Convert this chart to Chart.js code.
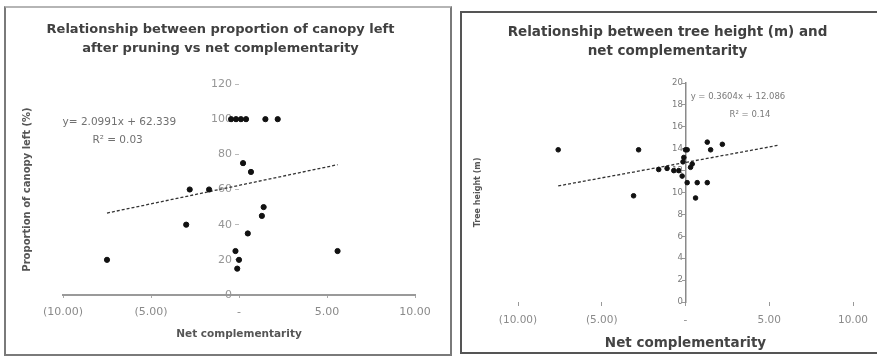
<!DOCTYPE html>
<html>
<head>
<meta charset="utf-8">
<script src="https://cdn.jsdelivr.net/npm/chart.js@4.4.1/dist/chart.umd.min.js"></script>
<style>
  body { margin: 0; background: #fff; }
  .panel { position: absolute; border: 2px solid #7a7a7a; background: #fff; }
  #p1 { left: 4px; top: 6px; width: 444px; height: 346px; border-top-color: #b5b5b5; }
  #p2 { left: 460px; top: 11px; width: 415px; height: 339px; border-color: #555; }
  canvas { display: block; }
</style>
</head>
<body>
<div class="panel" id="p1"><canvas id="canopyChart" width="444" height="346"></canvas></div>
<div class="panel" id="p2"><canvas id="heightChart" width="415" height="339"></canvas></div>
<script>
// Datos
const xTickValues = [-10, -5, 0, 5, 10];
const xTickLabels = ['(10.00)', '(5.00)', '-', '5.00', '10.00'];

// Gráfica 1: proporción de copa vs complementariedad
const canopyX = [-7.5, -3.0, -2.8, -1.7, -0.45, -0.17, 0.11, 0.4, 1.5, 2.2, 0.23, 0.68, 1.4, 1.3, 0.5, -0.2, 0, -0.1, 5.6];
const canopyY = [20, 40, 60, 60, 100, 100, 100, 100, 100, 100, 75, 70, 50, 45, 35, 25, 20, 15, 25];
const canopyTrendX = [-7.5, 5.6];
const canopyTrendY = [46.6, 74.1];

// Gráfica 2: altura del árbol vs complementariedad
const heightX = [-7.6, -3.1, -2.8, 0, 0.1, -0.1, -0.15, -1.6, -1.1, -0.7, -0.4, -0.2, 0.3, 0.4, 0.1, 0.7, 1.3, 0.6, 1.3, 1.5, 2.2];
const heightY = [13.9, 9.7, 13.9, 13.9, 13.9, 13.2, 12.8, 12.1, 12.2, 12.0, 12.0, 11.5, 12.3, 12.6, 10.9, 10.9, 10.9, 9.5, 14.6, 13.9, 14.4];
const heightTrendX = [-7.6, 5.5];
const heightTrendY = [10.6, 14.3];

const dv = '"DejaVu Sans", Verdana, sans-serif';

function toPoints(xs, ys) {
    return xs.map((x, i) => ({ x: x, y: ys[i] }));
}

// Texto de la ecuación de la línea de tendencia
function eqPlugin(items, font, color) {
    return {
        id: 'eqText',
        afterDatasetsDraw(chart) {
            const { ctx, scales } = chart;
            ctx.save();
            ctx.font = font;
            ctx.fillStyle = color;
            ctx.textAlign = 'center';
            ctx.textBaseline = 'middle';
            items.forEach(it => {
                ctx.fillText(it.text, scales.x.getPixelForValue(it.x), scales.y.getPixelForValue(it.y));
            });
            ctx.restore();
        }
    };
}

function xTick(v) {
    const i = xTickValues.indexOf(v);
    return i >= 0 ? xTickLabels[i] : '';
}

// Renderizar gráfica 1
new Chart(document.getElementById('canopyChart'), {
    type: 'scatter',
    data: {
        datasets: [{
            data: toPoints(canopyX, canopyY),
            yAxisID: 'y',
            backgroundColor: '#111',
            borderColor: '#111',
            pointRadius: 2.6,
            pointHoverRadius: 2.6
        }, {
            type: 'line',
            data: toPoints(canopyTrendX, canopyTrendY),
            yAxisID: 'y',
            borderColor: '#333',
            borderWidth: 1.3,
            borderDash: [3, 2],
            pointRadius: 0,
            fill: false
        }]
    },
    options: {
        responsive: false,
        animation: false,
        layout: { padding: { left: 20, right: 35, top: 0, bottom: 6 } },
        plugins: {
            legend: { display: false },
            tooltip: { enabled: false },
            title: {
                display: true,
                text: ['Relationship between proportion of canopy left', 'after pruning vs net complementarity'],
                color: '#404040',
                font: { family: dv, size: 13, weight: 'bold', lineHeight: '19px' },
                padding: { top: 12, bottom: 26 }
            }
        },
        scales: {
            x: {
                type: 'linear', position: 'bottom', min: -10, max: 10,
                ticks: { stepSize: 5, callback: xTick, color: '#8a8a8a', font: { family: dv, size: 11 }, padding: 7.5, maxRotation: 0 },
                grid: { drawOnChartArea: false, tickLength: 3, color: '#aaa' },
                border: { display: true, color: '#9a9a9a', width: 2 },
                title: { display: true, text: 'Net complementarity', color: '#555', font: { family: dv, size: 10.5, weight: 'bold' }, padding: { top: 0, bottom: 7.7 } },
                afterFit: s => { s.height = 53; }
            },
            y: {
                type: 'linear', position: { x: 0 }, min: 0, max: 120,
                ticks: { stepSize: 20, color: '#959595', font: { family: dv, size: 11 }, callback: v => v + '  ' },
                grid: { drawOnChartArea: false, tickLength: 4, color: '#bbb' },
                border: { display: false },
                afterFit: s => { s.width = 0; }
            },
            yt: {
                axis: 'y', type: 'linear', position: 'left', display: true,
                ticks: { display: false },
                grid: { display: false },
                border: { display: false },
                title: { display: true, text: 'Proportion of canopy left (%)', color: '#555', font: { family: dv, size: 10, weight: 'bold' }, padding: { top: -5, bottom: 0 } },
                afterFit: s => { s.width = 37; }
            }
        }
    },
    plugins: [eqPlugin([
        { text: 'y= 2.0991x + 62.339', x: -6.8, y: 98 },
        { text: 'R\u00b2 = 0.03', x: -6.9, y: 88 }
    ], '10.5px ' + dv, '#707070')]
});

// Renderizar gráfica 2
new Chart(document.getElementById('heightChart'), {
    type: 'scatter',
    data: {
        datasets: [{
            data: toPoints(heightX, heightY),
            yAxisID: 'y',
            backgroundColor: '#111',
            borderColor: '#111',
            pointRadius: 2.3,
            pointHoverRadius: 2.3
        }, {
            type: 'line',
            data: toPoints(heightTrendX, heightTrendY),
            yAxisID: 'y',
            borderColor: '#333',
            borderWidth: 1.3,
            borderDash: [3, 2],
            pointRadius: 0,
            fill: false
        }]
    },
    options: {
        responsive: false,
        animation: false,
        layout: { padding: { left: 20, right: 24, top: 0, bottom: 0 } },
        plugins: {
            legend: { display: false },
            tooltip: { enabled: false },
            title: {
                display: true,
                text: ['Relationship between tree height (m) and', 'net complementarity'],
                color: '#404040',
                font: { family: dv, size: 13.5, weight: 'bold', lineHeight: '19px' },
                padding: { top: 10, bottom: 22 }
            }
        },
        scales: {
            x: {
                type: 'linear', position: 'bottom', min: -10, max: 10,
                ticks: { stepSize: 5, callback: xTick, color: '#8a8a8a', font: { family: dv, size: 10.5 }, padding: 7.7, maxRotation: 0 },
                grid: { drawOnChartArea: false, tickLength: 4, color: '#999' },
                border: { display: false },
                title: { display: true, text: 'Net complementarity', color: '#444', font: { family: dv, size: 13.5, weight: 'bold' }, padding: { top: 0, bottom: 0.9 } },
                afterFit: s => { s.height = 50; }
            },
            y: {
                type: 'linear', position: { x: 0 }, min: 0, max: 20,
                ticks: { stepSize: 2, color: '#7a7a7a', font: { family: dv, size: 8.5 }, callback: v => v + ' ' },
                grid: { drawOnChartArea: false, tickLength: 3, color: '#999' },
                border: { display: true, color: '#8a8a8a', width: 1.5 },
                afterFit: s => { s.width = 0; }
            },
            yt: {
                axis: 'y', type: 'linear', position: 'left', display: true,
                ticks: { display: false },
                grid: { display: false },
                border: { display: false },
                title: { display: true, text: 'Tree height (m)', color: '#555', font: { family: dv, size: 8, weight: 'bold' }, padding: { top: -8.8, bottom: 0 } },
                afterFit: s => { s.width = 36; }
            }
        }
    },
    plugins: [eqPlugin([
        { text: 'y = 0.3604x + 12.086', x: 3.13, y: 18.7 },
        { text: 'R\u00b2 = 0.14', x: 3.85, y: 17.1 }
    ], '8.5px ' + dv, '#7a7a7a')]
});
</script>
</body>
</html>
